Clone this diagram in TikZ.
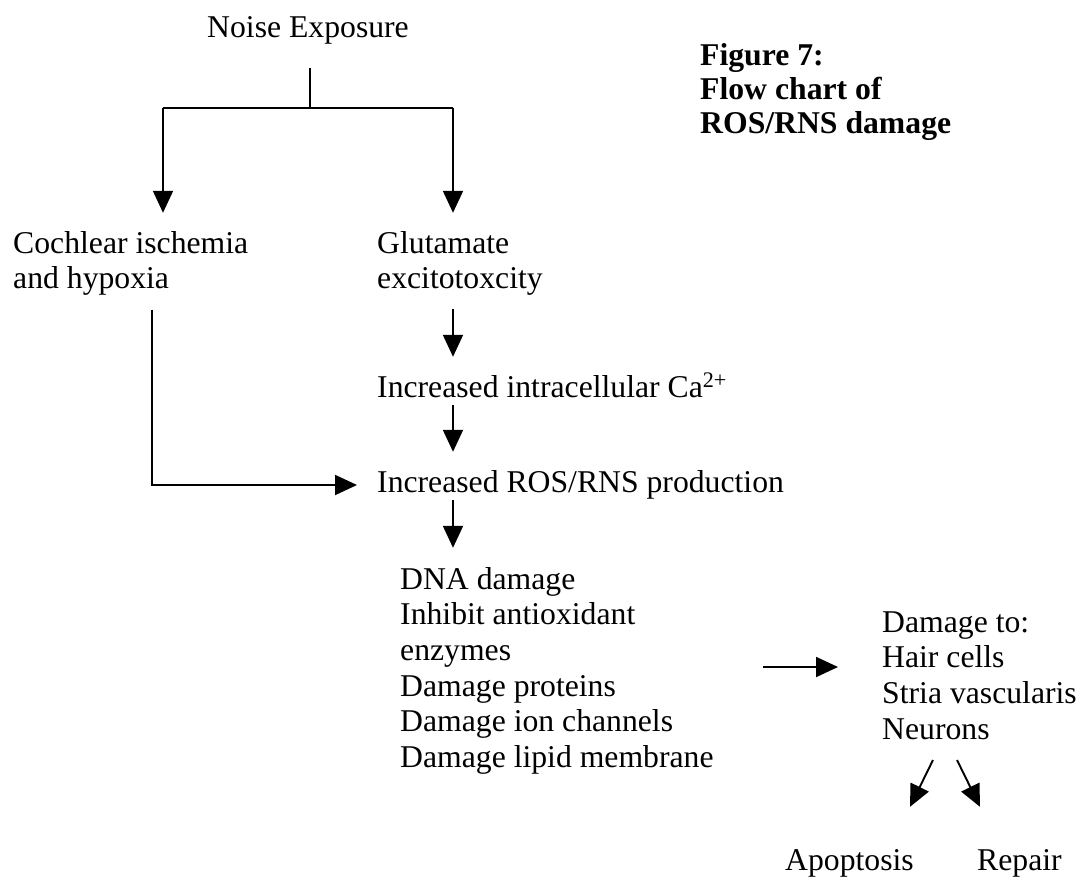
\documentclass[tikz,border=0pt]{standalone}
\usepackage{fontspec}
\setmainfont{Liberation Serif}
\usetikzlibrary{arrows.meta}
\begin{document}
\begin{tikzpicture}[x=1pt,y=-1pt,
  txt/.style={anchor=base west,inner sep=0pt,font=\fontsize{31.7}{35.7}\selectfont},
  one/.style={txt,text height=25pt,text depth=0pt},
  ttl/.style={anchor=base west,inner sep=0pt,font=\fontsize{31.7}{34}\selectfont\bfseries},
  conn/.style={line width=1.9pt},
  arr/.style={conn,-{Triangle[length=22pt,width=20pt]}}]
\useasboundingbox (0,0) rectangle (1079,878);

% texts
\node[one] (noise) at (207,37) {Noise Exposure};
\node[ttl] (fig) at (700,65) {\begin{tabular}[t]{@{}l@{}}Figure 7:\\Flow chart of\\ROS/RNS damage\end{tabular}};
\node[txt] (coch) at (13,253) {\begin{tabular}[t]{@{}l@{}}Cochlear ischemia\\and hypoxia\end{tabular}};
\node[txt] (glu) at (377,253) {\begin{tabular}[t]{@{}l@{}}Glutamate\\excitotoxcity\end{tabular}};
\node[one] (ca) at (377,397) {Increased intracellular Ca\textsuperscript{2+}};
\node[one] (ros) at (377,492) {Increased ROS/RNS production};
\node[txt] (eff) at (400,589) {\begin{tabular}[t]{@{}l@{}}DNA damage\\Inhibit antioxidant\\enzymes\\Damage proteins\\Damage ion channels\\Damage lipid membrane\end{tabular}};
\node[txt] (dmg) at (882,632) {\begin{tabular}[t]{@{}l@{}}Damage to:\\Hair cells\\Stria vascularis\\Neurons\end{tabular}};
\node[one] (apo) at (785,870) {Apoptosis};
\node[one] (rep) at (977,870) {Repair};

% branching from Noise Exposure
\coordinate (bar) at (310,108);
\coordinate (barL) at (163,108);
\coordinate (barR) at (453,108);
\draw[conn,shorten <=31pt] (noise.south -| bar) -- (bar);
\draw[conn] (barL) -- (barR);
\draw[arr,shorten >=15pt] (barL) -- (barL |- coch.north);
\draw[arr,shorten >=15pt] (barR) -- (barR |- glu.north);

% right column
\draw[arr,shorten <=9pt,shorten >=15pt] (barR |- glu.south) -- (barR |- ca.north);
\draw[arr,shorten <=8pt,shorten >=15pt] (barR |- ca.south) -- (barR |- ros.north);
\draw[arr,shorten <=8pt,shorten >=16pt] (barR |- ros.south) -- (barR |- eff.north);

% left column into ROS/RNS
\draw[arr,shorten <=10pt,shorten >=20pt] ([xshift=139pt]coch.south west) |- ([yshift=7pt]ros.base west);

% effects to damage
\coordinate (effout) at (763,667);
\draw[arr] (effout) -- ([xshift=-44pt,yshift=-35pt]dmg.base west);

% outcomes
\draw[arr] ([xshift=51pt,yshift=-10pt]dmg.south west) -- ([xshift=125pt,yshift=38pt]apo.north west);
\draw[arr] ([xshift=75pt,yshift=-10pt]dmg.south west) -- ([xshift=3pt,yshift=38pt]rep.north west);
\end{tikzpicture}
\end{document}
